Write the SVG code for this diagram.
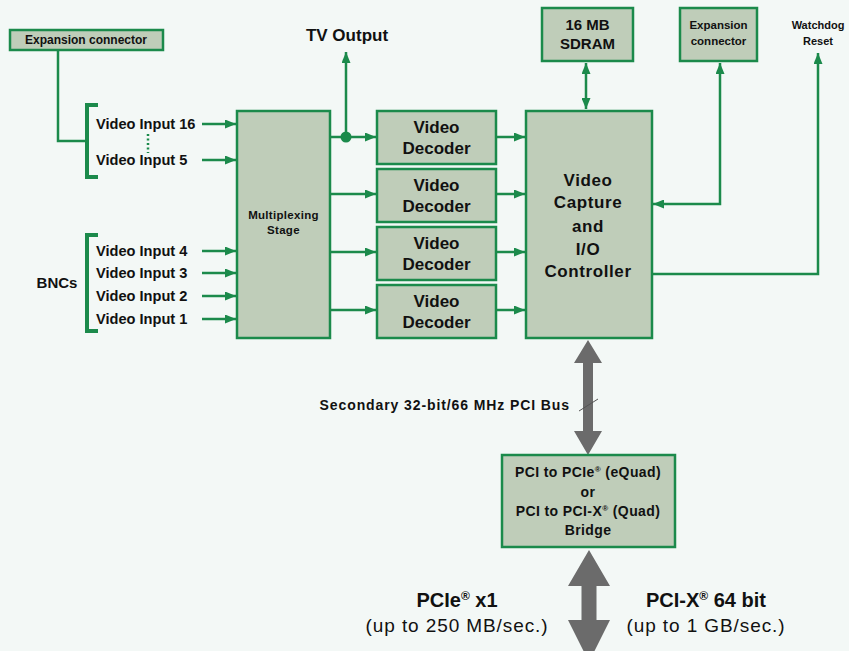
<svg xmlns="http://www.w3.org/2000/svg" width="849" height="651" viewBox="0 0 849 651">
<defs>
<style>
.box{fill:#bfcdb9;stroke:#1b8a4b;stroke-width:2.5}
.ln{fill:none;stroke:#1b8a4b;stroke-width:2.5}
.br{fill:none;stroke:#1b8a4b;stroke-width:4}
.t{font-family:"Liberation Sans",Arial,sans-serif;font-weight:bold;fill:#111}
.n{font-family:"Liberation Sans",Arial,sans-serif;font-weight:normal;fill:#111}
.m{text-anchor:middle}
.gray{fill:#6b6b6b}
</style>
<marker id="ah" markerUnits="userSpaceOnUse" markerWidth="11" markerHeight="9" refX="11" refY="4.5" orient="auto-start-reverse">
<path d="M0,0 L11,4.5 L0,9 z" fill="#1b8a4b"/>
</marker>
</defs>
<rect width="849" height="651" fill="#f3f8f6"/>

<g id="connectors">
<path class="ln" d="M58,50 V141 H86"/>
<path class="br" d="M98,105 H87 V177 H98"/>
<path class="br" d="M98,235 H87 V331 H98"/>
<line x1="148" y1="134" x2="148" y2="153" stroke="#1b8a4b" stroke-width="2.5" stroke-dasharray="2,2.5"/>
<line class="ln" x1="202" y1="124" x2="236" y2="124" marker-end="url(#ah)"/>
<line class="ln" x1="202" y1="160" x2="236" y2="160" marker-end="url(#ah)"/>
<line class="ln" x1="202" y1="251" x2="236" y2="251" marker-end="url(#ah)"/>
<line class="ln" x1="202" y1="273" x2="236" y2="273" marker-end="url(#ah)"/>
<line class="ln" x1="202" y1="296" x2="236" y2="296" marker-end="url(#ah)"/>
<line class="ln" x1="202" y1="319" x2="236" y2="319" marker-end="url(#ah)"/>
<line class="ln" x1="330" y1="137" x2="376" y2="137" marker-end="url(#ah)"/>
<line class="ln" x1="330" y1="194" x2="376" y2="194" marker-end="url(#ah)"/>
<line class="ln" x1="330" y1="252" x2="376" y2="252" marker-end="url(#ah)"/>
<line class="ln" x1="330" y1="310" x2="376" y2="310" marker-end="url(#ah)"/>
<circle cx="346" cy="137" r="5.5" fill="#1b8a4b"/>
<line class="ln" x1="346" y1="137" x2="346" y2="52" marker-end="url(#ah)"/>
<line class="ln" x1="496" y1="137" x2="525" y2="137" marker-end="url(#ah)"/>
<line class="ln" x1="496" y1="194" x2="525" y2="194" marker-end="url(#ah)"/>
<line class="ln" x1="496" y1="252" x2="525" y2="252" marker-end="url(#ah)"/>
<line class="ln" x1="496" y1="310" x2="525" y2="310" marker-end="url(#ah)"/>
<line class="ln" x1="586" y1="63" x2="586" y2="109" marker-start="url(#ah)" marker-end="url(#ah)"/>
<path class="ln" d="M720,63 V204 H653" marker-start="url(#ah)" marker-end="url(#ah)"/>
<path class="ln" d="M652,274 H818 V53" marker-end="url(#ah)"/>
<polygon class="gray" points="588,340 602,363 593,363 593,431 602,431 588,455 574,431 583,431 583,363 574,363"/>
<line x1="579" y1="411" x2="598" y2="399" stroke="#555" stroke-width="1"/>
<polygon class="gray" points="589,550 610,586 596.5,586 596.5,620 610,620 589,662 568,620 581.5,620 581.5,586 568,586"/>
</g>

<g id="expansion-left">
<rect class="box" x="10" y="30" width="153" height="20"/>
<text class="t m" x="86" y="44" font-size="12">Expansion connector</text>
</g>

<g id="inputs">
<text class="t" x="96" y="129" font-size="14.6">Video Input 16</text>
<text class="t" x="96" y="165" font-size="14.6">Video Input 5</text>
<text class="t" x="96" y="256" font-size="14.6">Video Input 4</text>
<text class="t" x="96" y="278" font-size="14.6">Video Input 3</text>
<text class="t" x="96" y="301" font-size="14.6">Video Input 2</text>
<text class="t" x="96" y="324" font-size="14.6">Video Input 1</text>
<text class="t m" x="57" y="288" font-size="15">BNCs</text>
</g>

<g id="tv-output">
<text class="t m" x="347" y="41" font-size="17">TV Output</text>
</g>

<g id="mux">
<rect class="box" x="237" y="111" width="93" height="227"/>
<text class="t m" x="283.5" y="219" font-size="11.5" letter-spacing="0.3">Multiplexing</text>
<text class="t m" x="283.5" y="234" font-size="11.5" letter-spacing="0.3">Stage</text>
</g>

<g id="decoder1">
<rect class="box" x="377" y="111" width="119" height="53"/>
<text class="t m" x="436.5" y="133" font-size="17">Video</text>
<text class="t m" x="436.5" y="154" font-size="17">Decoder</text>
</g>
<g id="decoder2">
<rect class="box" x="377" y="169" width="119" height="53"/>
<text class="t m" x="436.5" y="191" font-size="17">Video</text>
<text class="t m" x="436.5" y="212" font-size="17">Decoder</text>
</g>
<g id="decoder3">
<rect class="box" x="377" y="227" width="119" height="53"/>
<text class="t m" x="436.5" y="249" font-size="17">Video</text>
<text class="t m" x="436.5" y="270" font-size="17">Decoder</text>
</g>
<g id="decoder4">
<rect class="box" x="377" y="285" width="119" height="53"/>
<text class="t m" x="436.5" y="307" font-size="17">Video</text>
<text class="t m" x="436.5" y="328" font-size="17">Decoder</text>
</g>

<g id="controller">
<rect class="box" x="526" y="111" width="126" height="227"/>
<text class="t m" x="588" y="186" font-size="17" letter-spacing="0.6">Video</text>
<text class="t m" x="588" y="208" font-size="17" letter-spacing="0.6">Capture</text>
<text class="t m" x="588" y="232" font-size="17" letter-spacing="0.6">and</text>
<text class="t m" x="588" y="255" font-size="17" letter-spacing="0.6">I/O</text>
<text class="t m" x="588" y="277" font-size="17" letter-spacing="0.6">Controller</text>
</g>

<g id="sdram">
<rect class="box" x="542" y="8" width="91" height="53"/>
<text class="t m" x="587.5" y="30" font-size="15">16 MB</text>
<text class="t m" x="587.5" y="49" font-size="15">SDRAM</text>
</g>

<g id="expansion-right">
<rect class="box" x="680" y="8" width="77" height="53"/>
<text class="t m" x="718.5" y="29" font-size="11.5">Expansion</text>
<text class="t m" x="718.5" y="45" font-size="11.5">connector</text>
</g>

<g id="watchdog">
<text class="t m" x="818" y="29" font-size="11">Watchdog</text>
<text class="t m" x="818" y="45" font-size="11">Reset</text>
</g>

<g id="bus-label">
<text class="t" x="570" y="410" font-size="14" letter-spacing="0.9" text-anchor="end">Secondary 32-bit/66 MHz PCI Bus</text>
</g>

<g id="bridge">
<rect class="box" x="502" y="455" width="173" height="92"/>
<text class="t m" x="588" y="477" font-size="14" letter-spacing="0.4">PCI to PCIe<tspan font-size="8" dy="-5">®</tspan><tspan dy="5"> (eQuad)</tspan></text>
<text class="t m" x="588" y="497" font-size="14" letter-spacing="0.4">or</text>
<text class="t m" x="588" y="516" font-size="14" letter-spacing="0.4">PCI to PCI-X<tspan font-size="8" dy="-5">®</tspan><tspan dy="5"> (Quad)</tspan></text>
<text class="t m" x="588" y="535" font-size="14" letter-spacing="0.4">Bridge</text>
</g>

<g id="pcie-label">
<text class="t m" x="457" y="607" font-size="20">PCIe<tspan font-size="12" dy="-7">®</tspan><tspan dy="7"> x1</tspan></text>
<text class="n m" x="457" y="632" font-size="19" letter-spacing="0.9">(up to 250 MB/sec.)</text>
</g>
<g id="pcix-label">
<text class="t m" x="706" y="607" font-size="20">PCI-X<tspan font-size="12" dy="-7">®</tspan><tspan dy="7"> 64 bit</tspan></text>
<text class="n m" x="706" y="632" font-size="19" letter-spacing="0.9">(up to 1 GB/sec.)</text>
</g>
</svg>
